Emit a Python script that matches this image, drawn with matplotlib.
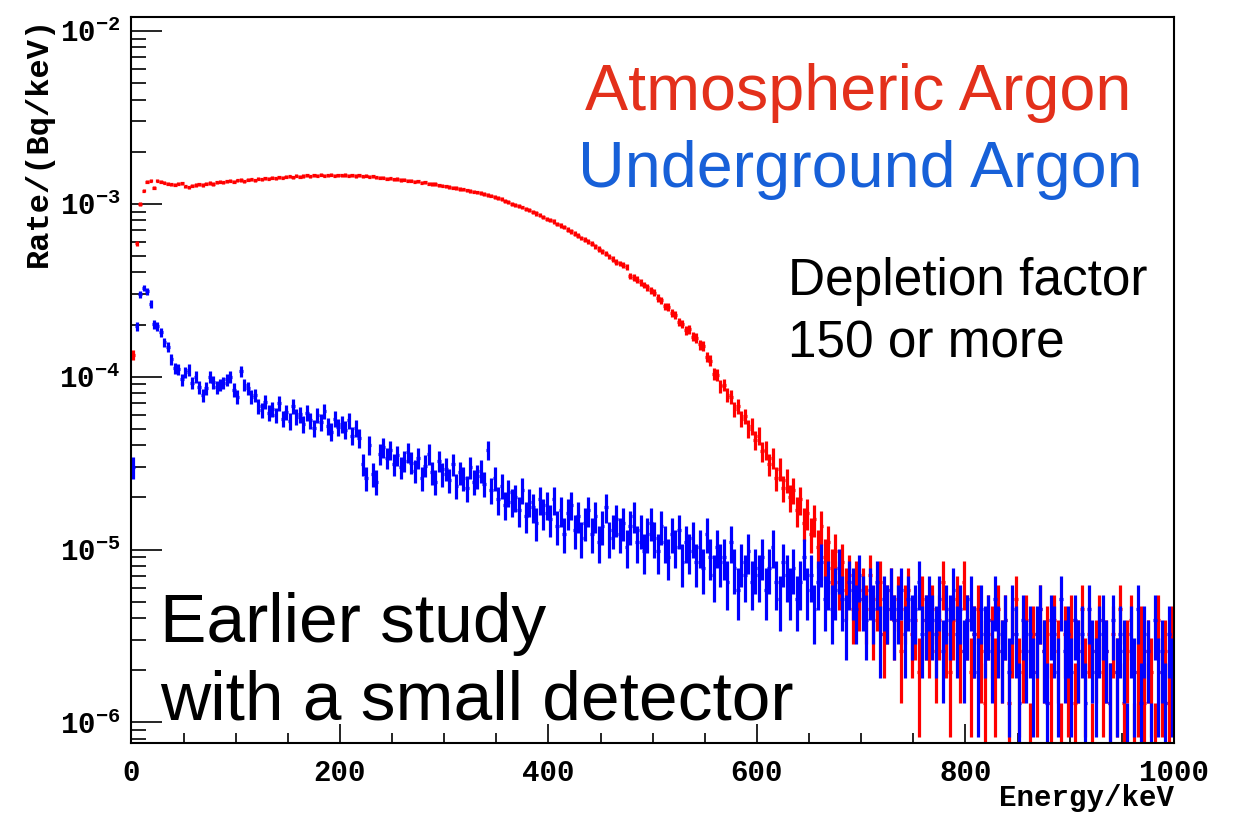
import numpy as np
import matplotlib
matplotlib.use("Agg")
import matplotlib.pyplot as plt
from matplotlib.ticker import MultipleLocator, LogLocator, NullFormatter

plt.rcParams['mathtext.fontset'] = 'custom'
plt.rcParams['mathtext.rm'] = 'Liberation Mono:bold'
plt.rcParams['mathtext.bf'] = 'Liberation Mono:bold'
plt.rcParams['mathtext.default'] = 'bf'

# 300 bins over 0-1000 keV, contents in counts; one count = RATE_PER_COUNT Bq/keV
E_MIN, E_MAX, N_BINS = 0.0, 1000.0, 300
RATE_PER_COUNT = 6.5e-7

atm_counts = [
    206, 908, 1538, 1831, 2062, 2092, 1904, 2092, 2062, 2033,
    2008, 1985, 1981, 2008, 2020, 1935, 1910, 1958, 1975, 1990,
    1975, 2010, 2030, 2000, 2045, 2062, 2040, 2075, 2088, 2060,
    2095, 2110, 2070, 2118, 2130, 2098, 2140, 2125, 2160, 2145,
    2170, 2158, 2190, 2175, 2200, 2215, 2188, 2230, 2205, 2225,
    2240, 2218, 2250, 2236, 2262, 2230, 2245, 2258, 2228, 2250,
    2238, 2255, 2230, 2248, 2222, 2240, 2215, 2230, 2205, 2212,
    2185, 2170, 2178, 2150, 2160, 2130, 2138, 2110, 2118, 2090,
    2085, 2060, 2070, 2035, 2040, 2010, 1995, 2000, 1965, 1958,
    1940, 1925, 1905, 1890, 1870, 1860, 1835, 1820, 1808, 1785,
    1770, 1748, 1730, 1712, 1680, 1655, 1630, 1600, 1570, 1540,
    1515, 1490, 1462, 1440, 1410, 1385, 1350, 1320, 1290, 1255,
    1235, 1215, 1178, 1150, 1125, 1090, 1065, 1032, 1005, 975,
    952, 925, 900, 870, 842, 815, 790, 760, 735, 708,
    695, 680, 662, 590, 575, 560, 540, 520, 505, 485,
    470, 438, 425, 392, 390, 358, 350, 318, 310, 285,
    290, 262, 258, 236, 232, 200, 190, 160, 158, 135,
    138, 121, 118, 100, 104, 88, 91, 77, 80, 66,
    70, 57, 58, 48, 52, 40, 45, 35, 39, 31,
    34, 26, 30, 22, 25, 19, 23, 16, 21, 14,
    17, 12, 15, 10, 13, 9, 11, 7, 10, 8,
    9, 7, 11, 6, 8, 10, 5, 7, 9, 6,
    8, 4, 7, 9, 5, 6, 3, 8, 6, 5,
    7, 4, 6, 10, 5, 3, 6, 8, 4, 10,
    6, 3, 5, 7, 4, 2, 6, 5, 3, 7,
    4, 6, 2, 5, 8, 3, 4, 6, 1, 5,
    3, 7, 4, 5, 2, 6, 4, 1, 5, 3,
    6, 2, 4, 7, 3, 5, 1, 4, 6, 3,
    4, 2, 5, 3, 7, 2, 4, 6, 1, 3,
    5, 2, 4, 3, 1, 6, 3, 4, 2, 5,
]

ug_counts = [
    46, 300, 460, 500, 480, 405, 308, 300, 277, 243,
    228, 194, 172, 170, 148, 163, 169, 142, 154, 134,
    120, 132, 154, 143, 134, 138, 142, 148, 154, 129,
    118, 165, 138, 132, 118, 120, 104, 98, 110, 95,
    100, 92, 108, 88, 96, 85, 104, 90, 93, 82,
    95, 86, 78, 92, 84, 97, 80, 74, 88, 79,
    82, 76, 86, 70, 78, 68, 48, 40, 62, 42,
    38, 55, 60, 52, 58, 48, 54, 46, 50, 56,
    49, 44, 52, 40, 47, 55, 43, 38, 50, 42,
    45, 39, 48, 36, 43, 40, 35, 46, 38, 41,
    44, 37, 58, 34, 40, 30, 36, 28, 33, 29,
    31, 26, 34, 24, 29, 27, 22, 30, 25, 28,
    23, 30, 21, 26, 19, 25, 28, 20, 24, 18,
    22, 26, 19, 24, 17, 21, 27, 18, 20, 23,
    19, 22, 16, 21, 24, 17, 20, 15, 19, 22,
    18, 15, 21, 17, 14, 19, 16, 20, 13, 17,
    15, 18, 13, 16, 12, 19, 14, 11, 16, 13,
    14, 10, 17, 12, 9, 13, 11, 15, 10, 12,
    11, 14, 9, 12, 16, 10, 8, 13, 11, 9,
    12, 8, 10, 14, 9, 11, 7, 10, 13, 8,
    10, 7, 9, 12, 8, 6, 10, 9, 7, 11,
    8, 6, 9, 7, 10, 5, 8, 7, 9, 6,
    7, 9, 5, 8, 6, 7, 10, 5, 6, 8,
    6, 5, 8, 4, 7, 6, 9, 5, 7, 4,
    6, 8, 5, 3, 7, 5, 6, 4, 8, 5,
    4, 6, 3, 7, 5, 2, 6, 4, 5, 3,
    5, 7, 4, 2, 6, 5, 3, 8, 4, 5,
    3, 6, 4, 5, 2, 7, 4, 3, 5, 6,
    4, 2, 6, 3, 5, 4, 1, 5, 3, 7,
    2, 5, 4, 1, 6, 3, 4, 2, 5, 3,
]

y_ticks = [1e-6, 1e-5, 1e-4, 1e-3, 1e-2]
y_tick_labels = [r'$10^{-6}$', r'$10^{-5}$', r'$10^{-4}$', r'$10^{-3}$', r'$10^{-2}$']

W, H = 1239, 815
fig = plt.figure(figsize=(W / 100, H / 100), dpi=100)
left, right, top, bottom = 131.4, 1174.0, 17.0, 742.5
ax = fig.add_axes([left / W, 1 - bottom / H, (right - left) / W, (bottom - top) / H])

edges = np.linspace(E_MIN, E_MAX, N_BINS + 1)
centers = 0.5 * (edges[:-1] + edges[1:])
half_width = 0.5 * (edges[1] - edges[0])


def draw_hist(counts, color):
    counts = np.asarray(counts, dtype=float)
    keep = counts > 0
    rate = counts[keep] * RATE_PER_COUNT
    err = np.sqrt(counts[keep]) * RATE_PER_COUNT
    lo = rate - np.maximum(rate - err, 1e-9)
    ax.errorbar(centers[keep], rate, xerr=half_width, yerr=[lo, err],
                fmt='none', ecolor=color, elinewidth=2.3, capsize=0)


draw_hist(atm_counts, '#ff0000')
draw_hist(ug_counts, '#0000ff')

ax.set_yscale('log')
ax.set_xlim(E_MIN, E_MAX)
ax.set_ylim(7.66e-7, 1.2e-2)

ax.xaxis.set_major_locator(MultipleLocator(200))
ax.xaxis.set_minor_locator(MultipleLocator(50))
ax.set_yticks(y_ticks, labels=y_tick_labels)
ax.yaxis.set_minor_locator(LogLocator(base=10, subs=np.arange(2, 10)))
ax.yaxis.set_minor_formatter(NullFormatter())

ax.tick_params(axis='both', which='both', direction='in', width=1.2, color='black')
ax.tick_params(axis='y', which='major', length=22, pad=8, labelsize=21)
ax.tick_params(axis='y', which='minor', length=11)
ax.tick_params(axis='x', which='major', length=14, pad=12, labelsize=21)
ax.tick_params(axis='x', which='minor', length=7)
for lab in ax.get_xticklabels():
    lab.set_fontfamily('Liberation Mono')
    lab.set_fontweight('bold')
for sp in ax.spines.values():
    sp.set_linewidth(1.5)

ax.set_ylabel('Rate/(Bq/keV)', family='Liberation Mono', weight='bold', fontsize=23,
              loc='top', labelpad=4)
fig.text(1174 / W, 1 - 806 / H, 'Energy/keV', family='Liberation Mono', weight='bold',
         fontsize=21, ha='right', va='baseline')


def label(x, y, s, size, color='black'):
    fig.text(x / W, 1 - y / H, s, fontsize=size, color=color,
             family='Liberation Sans', ha='left', va='baseline')


label(585, 110, 'Atmospheric Argon', 46.5, '#e3301b')
label(578, 187, 'Underground Argon', 46.5, '#1760d8')
label(788, 295, 'Depletion factor', 37)
label(788, 358, '150 or more', 37)
label(160, 642, 'Earlier study', 50)
label(160, 720, 'with a small detector', 50)

fig.savefig('out.png', dpi=100)
